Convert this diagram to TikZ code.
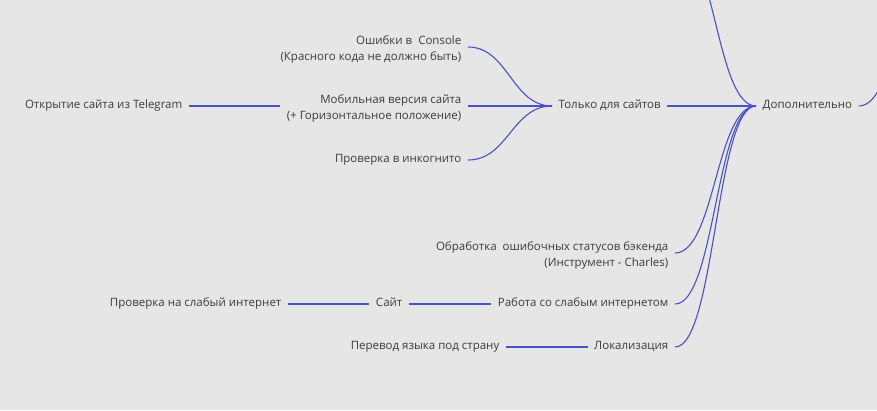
\documentclass[tikz,border=0pt]{standalone}
\usepackage{fontspec}
\setmainfont{Open Sans}
\usetikzlibrary{backgrounds}

\definecolor{paper}{RGB}{230,230,230}
\definecolor{branch}{RGB}{72,82,196}
\definecolor{ink}{RGB}{60,60,60}

\tikzset{
  topic/.style={font=\fontsize{11.5}{16}\selectfont, text=ink, inner xsep=6.5pt, inner ysep=2pt, text height=5.5pt, text depth=0pt},
  topic2/.style={font=\fontsize{11.5}{16}\selectfont, text=ink, inner xsep=6.5pt, inner ysep=2pt, text height=30.5pt, align=right},
  link/.style={draw=branch, line width=1.1pt},
}

\begin{document}
\begin{tikzpicture}[x=1pt,y=-1pt]
   \useasboundingbox[fill=paper] (0,0) rectangle (877,410);

   % only for sites
   \node[topic, anchor=west] (sites) at (552,106) {Только для сайтов};
   \node[topic, anchor=west] (extra) at (756,106) {Дополнительно};
   \node[topic2, anchor=east] (console) at (468,47) {Ошибки в \ Console\\(Красного кода не должно быть)};
   \node[topic2, anchor=east] (mobile) at (468,106) {Мобильная версия сайта\\(+ Горизонтальное положение)};
   \node[topic, anchor=east] (incognito) at (468,160) {Проверка в инкогнито};
   \node[topic, anchor=east] (telegram) at (189,106) {Открытие сайта из Telegram};

   % bottom branches
   \node[topic2, anchor=east] (backend) at (675,253) {Обработка \ ошибочных статусов бэкенда\\(Инструмент - Charles)};
   \node[topic, anchor=east] (weak) at (675,304) {Работа со слабым интернетом};
   \node[topic, anchor=east] (site) at (409,304) {Сайт};
   \node[topic, anchor=east] (slow) at (288,304) {Проверка на слабый интернет};
   \node[topic, anchor=east] (local) at (675,347) {Локализация};
   \node[topic, anchor=east] (lang) at (506,347) {Перевод языка под страну};

   \coordinate (upper) at (675,-60);
   \coordinate (root) at (940,-50);

   \draw[link] (console.east) .. controls +(40,0) and +(-40,0) .. (sites.west);
   \draw[link] (mobile.east) -- (sites.west);
   \draw[link] (incognito.east) .. controls +(40,0) and +(-40,0) .. (sites.west);
   \draw[link] (telegram.east) -- (mobile.west);
   \draw[link] (sites.east) -- (extra.west);

   \draw[link] (upper) .. controls +(40,0) and +(-40,0) .. (extra.west);
   \draw[link] (backend.east) .. controls +(40,0) and +(-40,0) .. (extra.west);
   \draw[link] (weak.east) .. controls +(40,0) and +(-40,0) .. (extra.west);
   \draw[link] (local.east) .. controls +(40,0) and +(-40,0) .. (extra.west);
   \draw[link] (slow.east) -- (site.west);
   \draw[link] (site.east) -- (weak.west);
   \draw[link] (lang.east) -- (local.west);
   \draw[link] (extra.east) .. controls +(40,0) and +(-40,0) .. (root);
 \end{tikzpicture}
\end{document}
